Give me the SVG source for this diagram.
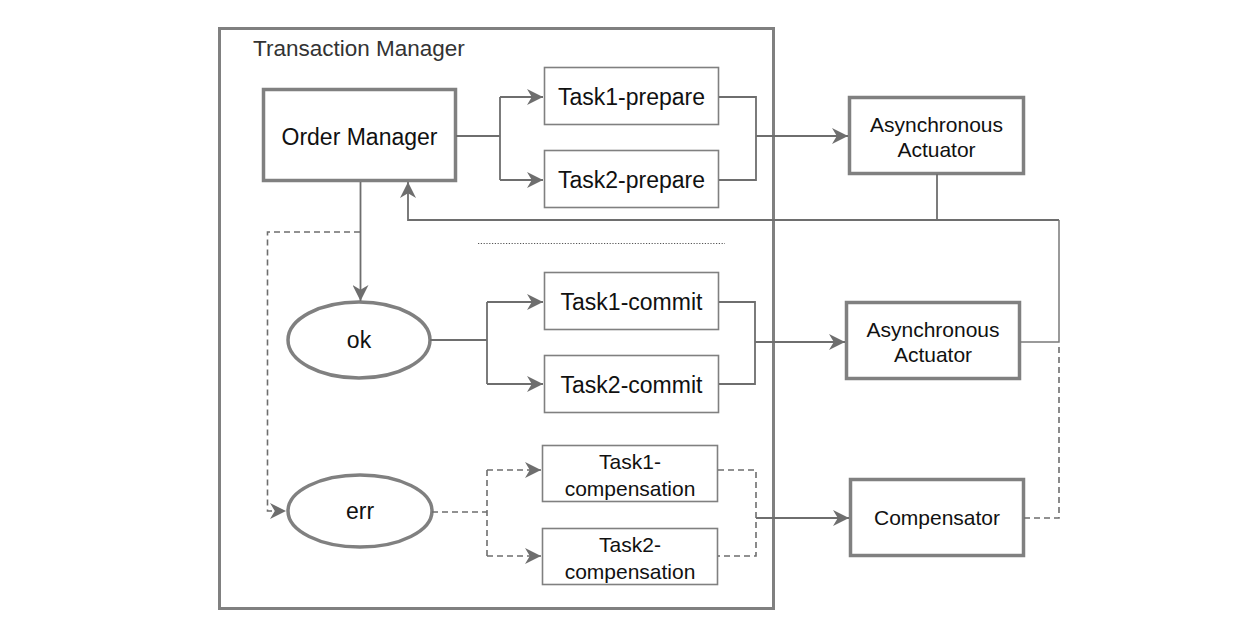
<svg xmlns="http://www.w3.org/2000/svg" width="1244" height="642" viewBox="0 0 1244 642">
<style>
text{font-family:"Liberation Sans",Arial,sans-serif;fill:#111;text-anchor:middle}
.thick{fill:#fff;stroke:#808080;stroke-width:3.5}
.thin{fill:#fff;stroke:#808080;stroke-width:1.6}
.c{fill:none;stroke:#6e6e6e;stroke-width:1.8}
.d{fill:none;stroke:#6e6e6e;stroke-width:1.6;stroke-dasharray:6 4}
.lbl{font-size:23px}
.sm{font-size:21px}
</style>
<defs>
<marker id="ahL" viewBox="0 0 10 10" refX="10" refY="5" markerWidth="16" markerHeight="16" markerUnits="userSpaceOnUse" orient="auto">
<path d="M0,0 L10,5 L0,10 L3,5 Z" fill="#6e6e6e"/>
</marker>
</defs>
<rect width="1244" height="642" fill="#fff"/>
<g id="transaction-manager">
<rect x="219.5" y="28.5" width="554" height="580" fill="none" stroke="#808080" stroke-width="3"/>
<text x="253" y="56" style="font-size:22.5px;text-anchor:start;fill:#333">Transaction Manager</text>
</g>
<g id="order-manager">
<rect class="thick" x="263.5" y="89.5" width="192" height="91"/>
<text class="lbl" x="359.5" y="145">Order Manager</text>
</g>
<g id="task1-prepare"><rect class="thin" x="544.5" y="67.5" width="174" height="57"/><text class="lbl" x="631.5" y="105">Task1-prepare</text></g>
<g id="task2-prepare"><rect class="thin" x="544.5" y="150.5" width="174" height="57"/><text class="lbl" x="631.5" y="188">Task2-prepare</text></g>
<g id="async-actuator-1"><rect class="thick" x="849.5" y="97.5" width="174" height="76"/><text class="sm" x="936.5" y="132">Asynchronous</text><text class="sm" x="936.5" y="157">Actuator</text></g>
<g id="ok"><ellipse class="thick" cx="359" cy="340" rx="71" ry="38"/><text class="lbl" x="359" y="348">ok</text></g>
<g id="task1-commit"><rect class="thin" x="544.5" y="272.5" width="174" height="57"/><text class="lbl" x="631.5" y="310">Task1-commit</text></g>
<g id="task2-commit"><rect class="thin" x="544.5" y="355.5" width="174" height="57"/><text class="lbl" x="631.5" y="393">Task2-commit</text></g>
<g id="async-actuator-2"><rect class="thick" x="846.5" y="302.5" width="173" height="76"/><text class="sm" x="933" y="337">Asynchronous</text><text class="sm" x="933" y="362">Actuator</text></g>
<g id="err"><ellipse class="thick" cx="360" cy="511" rx="72" ry="36"/><text class="lbl" x="360" y="519">err</text></g>
<g id="task1-compensation"><rect class="thin" x="542.5" y="445.5" width="175" height="56"/><text class="sm" x="630" y="469">Task1-</text><text class="sm" x="630" y="496">compensation</text></g>
<g id="task2-compensation"><rect class="thin" x="542.5" y="528.5" width="175" height="56"/><text class="sm" x="630" y="552">Task2-</text><text class="sm" x="630" y="579">compensation</text></g>
<g id="compensator"><rect class="thick" x="850.5" y="479.5" width="173" height="76"/><text class="sm" x="937" y="525">Compensator</text></g>
<g id="connectors">
<path class="c" d="M456,136 H500 M500,97 V180"/>
<path class="c" d="M500,97 H543" marker-end="url(#ahL)"/>
<path class="c" d="M500,180 H543" marker-end="url(#ahL)"/>
<path class="c" d="M719,97 H756 V180 H719"/>
<path class="c" d="M756,136 H848" marker-end="url(#ahL)"/>
<path class="c" d="M937,174 V220"/>
<path class="c" d="M1059,220 H408 V182" marker-end="url(#ahL)"/>
<path fill="none" stroke="#7a7a7a" stroke-width="1.5" d="M1059,220 V342 H1020"/>
<path class="c" d="M360.5,182 V301" marker-end="url(#ahL)"/>
<path class="d" d="M360,232 H267.5 V511 H286" marker-end="url(#ahL)"/>
<line x1="478" y1="243.5" x2="725" y2="243.5" stroke="#555" stroke-width="1.2" stroke-dasharray="1.2 1.6"/>
<path class="c" d="M430,340 H487 M487,302 V384"/>
<path class="c" d="M487,302 H543" marker-end="url(#ahL)"/>
<path class="c" d="M487,384 H543" marker-end="url(#ahL)"/>
<path class="c" d="M719,302 H755 V384 H719"/>
<path class="c" d="M755,342 H845" marker-end="url(#ahL)"/>
<path class="d" d="M432,512 H487 M487,470 V556"/>
<path class="d" d="M487,470 H541" marker-end="url(#ahL)"/>
<path class="d" d="M487,556 H541" marker-end="url(#ahL)"/>
<path class="d" d="M718,470 H756 V556 H718"/>
<path class="c" d="M756,518 H849" marker-end="url(#ahL)"/>
<path class="d" d="M1024,518 H1059 V346"/>
</g>
</svg>
